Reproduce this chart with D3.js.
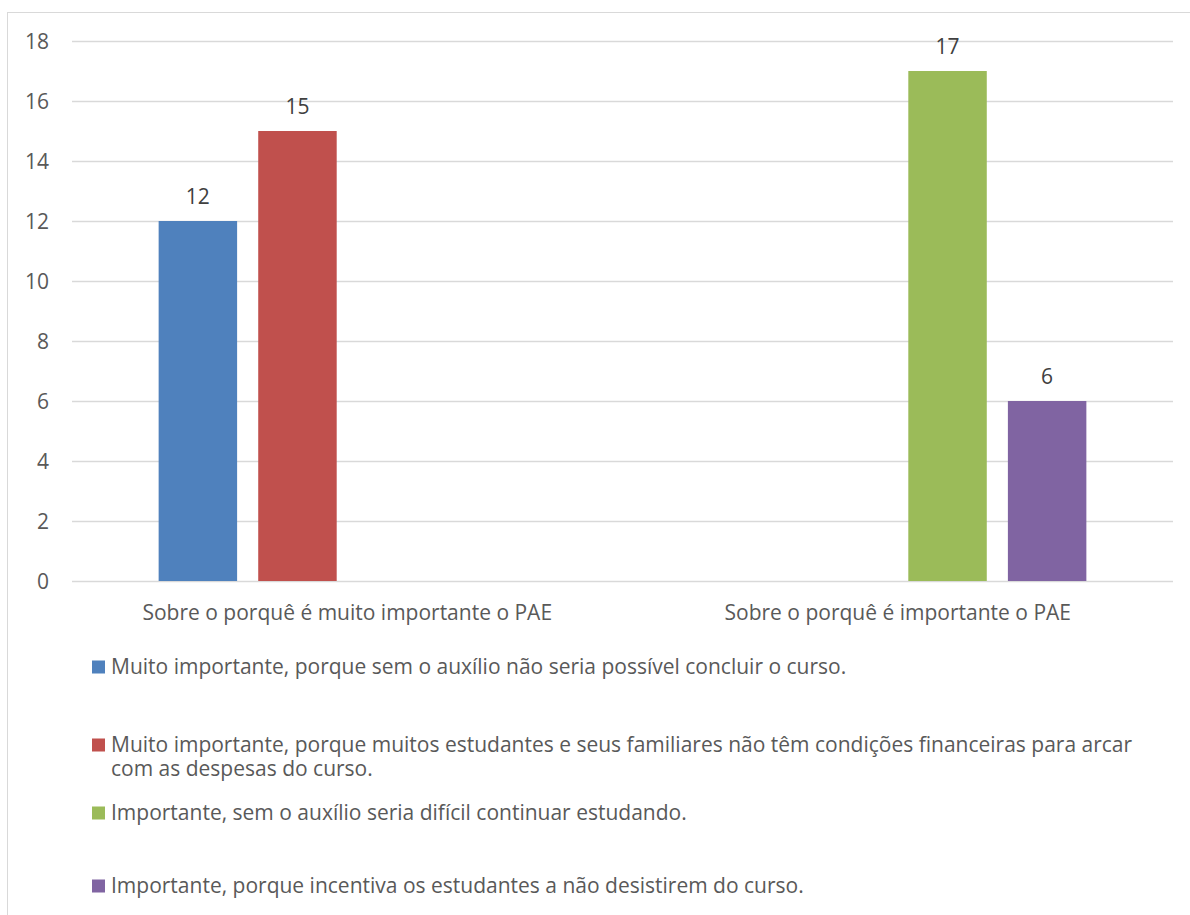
<!DOCTYPE html>
<html><head><meta charset="utf-8">
<script src="https://cdn.jsdelivr.net/npm/d3@7"></script>
<style>body{margin:0;background:#fff}svg{display:block}</style>
</head><body>
<script>
const categories = ["Sobre o porquê é muito importante o PAE", "Sobre o porquê é importante o PAE"];
const seriesNames = [
  "Muito importante, porque sem o auxílio não seria possível concluir o curso.",
  "Muito importante, porque muitos estudantes e seus familiares não têm condições financeiras para arcar com as despesas do curso.",
  "Importante, sem o auxílio seria difícil continuar estudando.",
  "Importante, porque incentiva os estudantes a não desistirem do curso."
];
const s1 = [12, null];
const s2 = [15, null];
const s3 = [null, 17];
const s4 = [null, 6];
const seriesValues = [s1, s2, s3, s4];
const colors = ["#4f81bd", "#c0504d", "#9bbb59", "#8064a2"];
const yTicks = [0, 2, 4, 6, 8, 10, 12, 14, 16, 18];

const W = 1190, H = 915;
const font = "'Open Sans', sans-serif";
const fs = 21;
const svg = d3.select("body").append("svg").attr("width", W).attr("height", H);
svg.append("rect").attr("x", 7.5).attr("y", 12.5).attr("width", W + 20).attr("height", H + 20)
  .attr("fill", "#fff").attr("stroke", "#d9d9d9").attr("stroke-width", 1);

const m = {left: 72, right: 1173, top: 41, bottom: 581};
const x0 = d3.scaleBand().domain(categories).range([m.left, m.right]).paddingInner(0).paddingOuter(0);
const x1 = d3.scaleBand().domain(d3.range(4)).range([0, x0.bandwidth()]).paddingInner(0.212).paddingOuter(0.87);
const y = d3.scaleLinear().domain([0, 18]).range([m.bottom, m.top]);

// grid
svg.append("g").selectAll("line").data(yTicks).join("line")
  .attr("x1", m.left).attr("x2", m.right)
  .attr("y1", d => Math.round(y(d)) + 0.5).attr("y2", d => Math.round(y(d)) + 0.5)
  .attr("stroke", "#d9d9d9").attr("stroke-width", 1.3);

// y axis labels
const yAxis = d3.axisLeft(y).tickValues(yTicks).tickSize(0).tickPadding(0);
const ya = svg.append("g").attr("transform", `translate(49,0)`).call(yAxis);
ya.select(".domain").remove();
ya.selectAll("text").attr("font-family", font).attr("font-size", fs).attr("fill", "#595959").attr("dy", "0.35em");

// bars
const flat = [];
categories.forEach((c, ci) => seriesValues.forEach((sv, si) => { if (sv[ci] != null) flat.push({c, si, v: sv[ci]}); }));
svg.append("g").selectAll("rect").data(flat).join("rect")
  .attr("x", d => x0(d.c) + x1(d.si)).attr("width", x1.bandwidth())
  .attr("y", d => y(d.v)).attr("height", d => y(0) - y(d.v))
  .attr("fill", d => colors[d.si]);
svg.append("g").selectAll("text").data(flat).join("text")
  .attr("x", d => x0(d.c) + x1(d.si) + x1.bandwidth() / 2).attr("y", d => y(d.v) - 24)
  .attr("dy", "0.35em")
  .attr("text-anchor", "middle").attr("font-family", font).attr("font-size", fs).attr("fill", "#404040")
  .text(d => d.v);

// x axis labels
const xAxis = d3.axisBottom(x0).tickSize(0).tickPadding(0);
const xa = svg.append("g").attr("transform", `translate(0,${m.bottom + 32})`).call(xAxis);
xa.select(".domain").remove();
xa.selectAll("text").attr("font-family", font).attr("font-size", fs).attr("fill", "#595959").attr("dy", "0.35em");

// legend
const legY = [667, 745, 813, 886];
const lg = svg.append("g");
seriesNames.forEach((name, i) => {
  const g = lg.append("g");
  g.append("rect").attr("x", 92).attr("y", legY[i] - 6.5).attr("width", 13).attr("height", 13).attr("fill", colors[i]);
  const words = name.split(" ");
  let line = [], lines = [];
  const probe = svg.append("text").attr("font-family", font).attr("font-size", fs);
  words.forEach(w => {
    const test = line.concat(w).join(" ");
    probe.text(test);
    if (probe.node().getComputedTextLength() > 1045 && line.length) { lines.push(line.join(" ")); line = [w]; }
    else line.push(w);
  });
  lines.push(line.join(" "));
  probe.remove();
  lines.forEach((l, li) => g.append("text").attr("font-family", font).attr("font-size", fs).attr("fill", "#595959")
    .attr("x", 111).attr("y", legY[i] + li * 24).attr("dy", "0.35em").text(l));
});
</script>
</body></html>
